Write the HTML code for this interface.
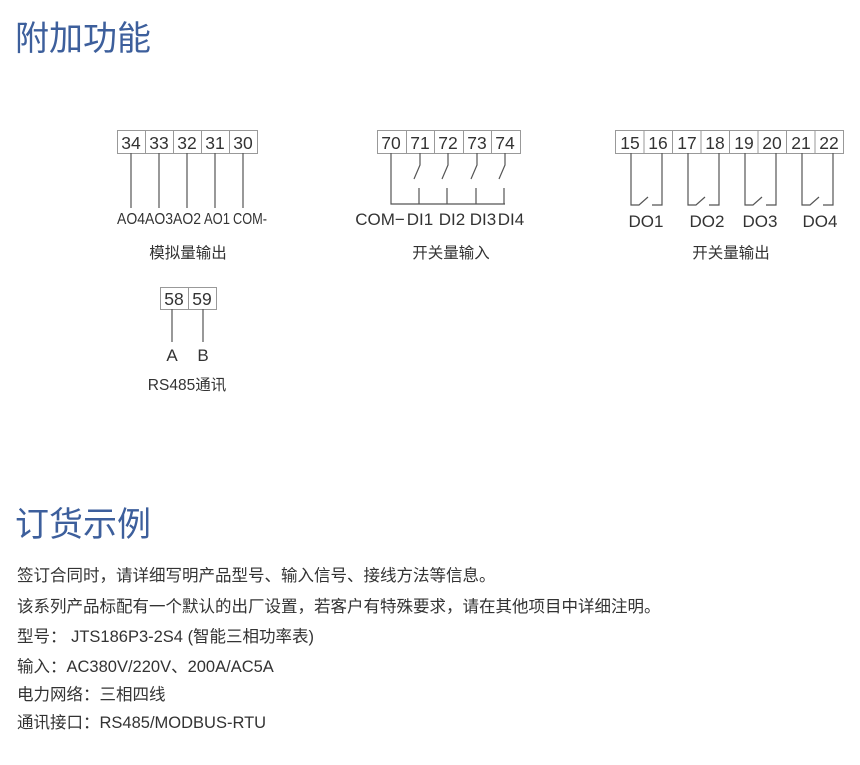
<!DOCTYPE html>
<html><head><meta charset="utf-8"><style>
body{margin:0;background:#fff;width:860px;height:765px;overflow:hidden;font-family:"Liberation Sans","Noto Sans CJK SC",sans-serif}
.t{position:absolute;left:15px;font-size:34px;color:#3d5f9c;font-family:"Noto Sans CJK SC",sans-serif;line-height:1}
.p{position:absolute;left:17px;font-size:16.5px;color:#333;line-height:1;white-space:nowrap;font-family:"Liberation Sans","Noto Sans CJK SC",sans-serif}
</style></head><body>
<div class="t" style="top:19px">附加功能</div>
<div class="t" style="top:505px">订货示例</div>
<svg width="860" height="765" style="position:absolute;left:0;top:0" font-family="Liberation Sans, Noto Sans CJK SC, sans-serif">
<g stroke="#999" fill="none" stroke-width="1">
<rect x="117.5" y="130.5" width="140" height="23"/>
<path d="M145.5 130v23M173.5 130v23M201.5 130v23M229.5 130v23"/>
<rect x="377.5" y="130.5" width="143" height="23"/>
<path d="M406.5 130v23M434.5 130v23M463.5 130v23M491.5 130v23"/>
<rect x="615.5" y="130.5" width="228" height="23"/>
<path d="M644 130v23M672.5 130v23M701 130v23M729.5 130v23M758 130v23M786.5 130v23M815 130v23"/>
<rect x="160.5" y="287.5" width="56" height="22"/>
<path d="M188.5 287v22"/>
</g>
<g stroke="#555" fill="none" stroke-width="1.2">
<path d="M131 153v55M159 153v55M187 153v55M215 153v55M243 153v55"/>
<path d="M391 153v51h114"/>
<path d="M420 153v12l-6 14M419 188v16"/>
<path d="M448 153v12l-6 14M447 188v16"/>
<path d="M477 153v12l-6 14M476 188v16"/>
<path d="M505 153v12l-6 14M504 188v16"/>
<path d="M631 153v52h8l9-8M652 205h10v-52"/>
<path d="M688 153v52h8l9-8M709 205h10v-52"/>
<path d="M745 153v52h8l9-8M766 205h10v-52"/>
<path d="M802 153v52h8l9-8M823 205h10v-52"/>
<path d="M172 309v33M203 309v33"/>
</g>
<g fill="#333" font-size="17.5" text-anchor="middle">
<text x="131" y="149">34</text><text x="159" y="149">33</text><text x="187" y="149">32</text><text x="215" y="149">31</text><text x="243" y="149">30</text>
<text x="391" y="149">70</text><text x="420" y="149">71</text><text x="448" y="149">72</text><text x="477" y="149">73</text><text x="505" y="149">74</text>
<text x="630" y="149">15</text><text x="658" y="149">16</text><text x="687" y="149">17</text><text x="715" y="149">18</text><text x="744" y="149">19</text><text x="772" y="149">20</text><text x="801" y="149">21</text><text x="829" y="149">22</text>
<text x="174" y="305">58</text><text x="202" y="305">59</text>
</g>
<g fill="#333" font-size="16" text-anchor="middle">
<text x="131" y="224" textLength="28" lengthAdjust="spacingAndGlyphs">AO4</text>
<text x="159" y="224" textLength="28" lengthAdjust="spacingAndGlyphs">AO3</text>
<text x="187" y="224" textLength="28" lengthAdjust="spacingAndGlyphs">AO2</text>
<text x="217" y="224" textLength="26" lengthAdjust="spacingAndGlyphs">AO1</text>
<text x="250" y="224" textLength="34" lengthAdjust="spacingAndGlyphs">COM-</text>
</g>
<g fill="#333" font-size="17" text-anchor="middle">
<text x="380" y="225">COM−</text><text x="420" y="225">DI1</text><text x="452" y="225">DI2</text><text x="483" y="225">DI3</text><text x="511" y="225">DI4</text>
<text x="646" y="227">DO1</text><text x="707" y="227">DO2</text><text x="760" y="227">DO3</text><text x="820" y="227">DO4</text>
<text x="172" y="361">A</text><text x="203" y="361">B</text>
</g>
<g fill="#333" font-size="15.5" text-anchor="middle">
<text x="188" y="258">模拟量输出</text>
<text x="451" y="258">开关量输入</text>
<text x="731" y="258">开关量输出</text>
<text x="187" y="390">RS485通讯</text>
</g>
</svg>
<div class="p" style="top:568px">签订合同时，请详细写明产品型号、输入信号、接线方法等信息。</div>
<div class="p" style="top:599px">该系列产品标配有一个默认的出厂设置，若客户有特殊要求，请在其他项目中详细注明。</div>
<div class="p" style="top:629px">型号： JTS186P3-2S4 (智能三相功率表)</div>
<div class="p" style="top:659px">输入：AC380V/220V、200A/AC5A</div>
<div class="p" style="top:687px">电力网络：三相四线</div>
<div class="p" style="top:715px">通讯接口：RS485/MODBUS-RTU</div>
</body></html>
